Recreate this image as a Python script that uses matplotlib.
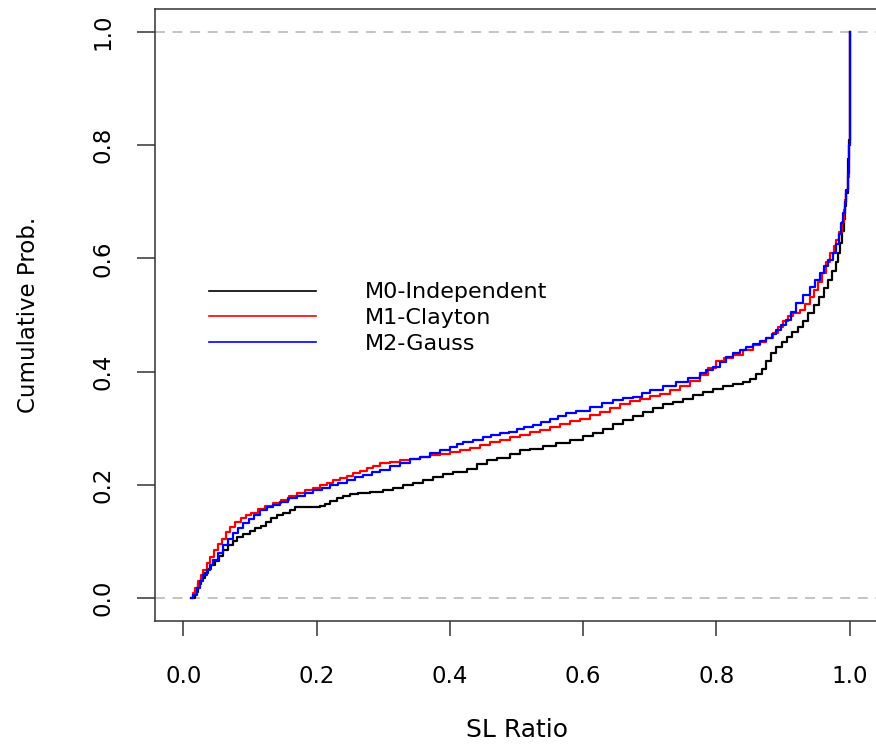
import matplotlib
matplotlib.use("Agg")
import matplotlib.pyplot as plt

# empirical CDF knots of the SL ratio under each model (x, cumulative prob.)
m0_x = [0.015, 0.018, 0.022, 0.027, 0.032, 0.037, 0.042, 0.048, 0.054, 0.06, 0.067, 0.074,
        0.081, 0.09, 0.10, 0.108, 0.116, 0.124, 0.132, 0.14, 0.15, 0.16, 0.168, 0.19, 0.205,
        0.212, 0.22, 0.23, 0.24, 0.25, 0.262, 0.28, 0.30, 0.315, 0.33, 0.345, 0.36, 0.375,
        0.39, 0.405, 0.425, 0.44, 0.455, 0.47, 0.49, 0.505, 0.52, 0.54, 0.56, 0.58, 0.60,
        0.615, 0.63, 0.645, 0.66, 0.675, 0.69, 0.705, 0.72, 0.735, 0.75, 0.765, 0.78, 0.795,
        0.81, 0.825, 0.84, 0.85, 0.86, 0.868, 0.875, 0.882, 0.89, 0.898, 0.906, 0.914, 0.922,
        0.93, 0.938, 0.946, 0.954, 0.962, 0.968, 0.974, 0.979, 0.983, 0.986, 0.989, 0.991,
        0.993, 0.995, 0.997, 0.998, 0.999, 1.0]
m0_p = [0.0, 0.01, 0.025, 0.035, 0.045, 0.052, 0.058, 0.066, 0.074, 0.084, 0.093, 0.101,
        0.108, 0.113, 0.119, 0.124, 0.128, 0.134, 0.142, 0.147, 0.15, 0.155, 0.16, 0.161, 0.162,
        0.166, 0.171, 0.176, 0.18, 0.184, 0.186, 0.188, 0.191, 0.194, 0.199, 0.204, 0.209, 0.214,
        0.219, 0.223, 0.228, 0.236, 0.243, 0.248, 0.255, 0.261, 0.264, 0.269, 0.274, 0.28, 0.286,
        0.291, 0.299, 0.308, 0.315, 0.322, 0.329, 0.336, 0.342, 0.347, 0.352, 0.358, 0.364, 0.369,
        0.374, 0.378, 0.382, 0.387, 0.395, 0.405, 0.418, 0.432, 0.443, 0.452, 0.461, 0.47, 0.478,
        0.49, 0.504, 0.518, 0.532, 0.548, 0.562, 0.578, 0.594, 0.61, 0.627, 0.648, 0.67,
        0.692, 0.715, 0.745, 0.775, 0.81, 1.0]

m1_x = [0.012, 0.015, 0.018, 0.022, 0.026, 0.03, 0.035, 0.04, 0.046, 0.052, 0.058, 0.064,
        0.07, 0.078, 0.086, 0.094, 0.102, 0.112, 0.122, 0.134, 0.146, 0.158, 0.17, 0.182,
        0.195, 0.205, 0.215, 0.225, 0.235, 0.245, 0.255, 0.265, 0.275, 0.285, 0.295, 0.31,
        0.325, 0.34, 0.355, 0.37, 0.385, 0.40, 0.415, 0.43, 0.445, 0.46, 0.475, 0.49, 0.505,
        0.52, 0.535, 0.55, 0.565, 0.58, 0.595, 0.61, 0.625, 0.64, 0.655, 0.67, 0.685, 0.70,
        0.715, 0.73, 0.745, 0.76, 0.775, 0.788, 0.80, 0.812, 0.825, 0.84, 0.855, 0.865, 0.875,
        0.885, 0.893, 0.90, 0.907, 0.915, 0.925, 0.933, 0.94, 0.946, 0.952, 0.958, 0.964, 0.97,
        0.976, 0.98, 0.984, 0.988, 0.991, 0.993, 0.995, 0.997, 0.9985, 0.9995, 1.0]
m1_p = [0.0, 0.008, 0.018, 0.03, 0.041, 0.05, 0.062, 0.073, 0.084, 0.095, 0.105, 0.116,
        0.126, 0.134, 0.141, 0.147, 0.151, 0.157, 0.162, 0.168, 0.174, 0.181, 0.186, 0.19,
        0.195, 0.2, 0.204, 0.208, 0.212, 0.216, 0.22, 0.225, 0.229, 0.234, 0.238, 0.241,
        0.243, 0.246, 0.249, 0.252, 0.255, 0.258, 0.261, 0.265, 0.27, 0.275, 0.279, 0.284, 0.288,
        0.293, 0.297, 0.302, 0.307, 0.312, 0.317, 0.323, 0.329, 0.335, 0.342, 0.348, 0.352, 0.357,
        0.361, 0.367, 0.375, 0.384, 0.394, 0.406, 0.418, 0.424, 0.429, 0.438, 0.447, 0.453, 0.46,
        0.468, 0.478, 0.489, 0.498, 0.503, 0.509, 0.52, 0.532, 0.545, 0.558, 0.575, 0.594, 0.61,
        0.622, 0.633, 0.647, 0.664, 0.685, 0.703, 0.72, 0.744, 0.77, 0.80, 1.0]

m2_x = [0.012, 0.015, 0.02, 0.025, 0.03, 0.035, 0.04, 0.045, 0.052, 0.06, 0.067, 0.075,
        0.082, 0.09, 0.098, 0.106, 0.115, 0.125, 0.135, 0.145, 0.157, 0.17, 0.182, 0.195,
        0.208, 0.22, 0.232, 0.245, 0.258, 0.27, 0.283, 0.295, 0.31, 0.325, 0.34, 0.355, 0.37,
        0.385, 0.40, 0.41, 0.42, 0.435, 0.45, 0.462, 0.475, 0.488, 0.50, 0.512, 0.525, 0.537,
        0.55, 0.562, 0.575, 0.59, 0.61, 0.628, 0.645, 0.66, 0.675, 0.688, 0.70, 0.72, 0.74,
        0.757, 0.775, 0.785, 0.795, 0.805, 0.815, 0.825, 0.835, 0.845, 0.855, 0.865, 0.875,
        0.883, 0.89, 0.897, 0.904, 0.912, 0.92, 0.93, 0.94, 0.948, 0.955, 0.962, 0.968, 0.975,
        0.98, 0.984, 0.9875, 0.99, 0.993, 0.995, 0.997, 0.9985, 0.9995, 1.0]
m2_p = [0.0, 0.005, 0.018, 0.03, 0.04, 0.05, 0.058, 0.067, 0.08, 0.094, 0.104, 0.115,
        0.124, 0.132, 0.139, 0.147, 0.155, 0.16, 0.165, 0.17, 0.176, 0.181, 0.186, 0.191,
        0.195, 0.199, 0.204, 0.208, 0.213, 0.217, 0.222, 0.227, 0.233, 0.239, 0.245, 0.25, 0.256,
        0.261, 0.267, 0.272, 0.276, 0.28, 0.284, 0.288, 0.291, 0.294, 0.298, 0.302, 0.306, 0.311,
        0.316, 0.321, 0.326, 0.331, 0.338, 0.344, 0.35, 0.353, 0.356, 0.362, 0.367, 0.374, 0.382,
        0.389, 0.397, 0.403, 0.409, 0.417, 0.425, 0.432, 0.438, 0.443, 0.449, 0.454, 0.459,
        0.466, 0.474, 0.482, 0.492, 0.506, 0.521, 0.536, 0.55, 0.562, 0.574, 0.586, 0.597, 0.609,
        0.626, 0.643, 0.662, 0.68, 0.70, 0.721, 0.75, 0.775, 0.80, 1.0]

labels = ["M0-Independent", "M1-Clayton", "M2-Gauss"]
colors = ["black", "red", "blue"]
xticks = [0.0, 0.2, 0.4, 0.6, 0.8, 1.0]
yticks = [0.0, 0.2, 0.4, 0.6, 0.8, 1.0]

fig = plt.figure(figsize=(8.76, 7.45), dpi=100)
ax = fig.add_axes([155 / 876, 124 / 745, 723 / 876, 612 / 745])

# grey reference lines at 0 and 1
for lvl in (0.0, 1.0):
    ax.axhline(lvl, color="#b3b3b3", lw=1.1, dashes=(6.5, 5.0), zorder=1)

for xs, ps, lab, col in zip([m0_x, m1_x, m2_x], [m0_p, m1_p, m2_p], labels, colors):
    ax.step(xs, ps, where="post", color=col, lw=1.6, label=lab, zorder=2)

ax.set_xlim(-0.0425, 1.0425)
ax.set_ylim(-0.0406, 1.0406)
ax.set_xticks(xticks)
ax.set_yticks(yticks)
ax.set_xticklabels(["%.1f" % v for v in xticks])
ax.set_yticklabels(["%.1f" % v for v in yticks])

for s in ax.spines.values():
    s.set_color("#333333")
    s.set_linewidth(1.1)
ax.tick_params(axis="x", length=11, width=1.1, color="#333333", pad=21, labelsize=16.5)
ax.tick_params(axis="y", length=13, width=1.1, color="#333333", pad=16, labelsize=16.5,
               labelrotation=90)
for t in ax.get_yticklabels():
    t.set_va("center")

ax.set_xlabel("SL Ratio", fontsize=18)
ax.set_ylabel("Cumulative Prob.", fontsize=16.5)
ax.xaxis.set_label_coords(0.5, -0.158)
ax.yaxis.set_label_coords(-0.159, 0.5)

leg = ax.legend(loc="upper left", bbox_to_anchor=(0.0747, 0.5534), frameon=False,
                fontsize=16, handlelength=4.82, handletextpad=2.2, labelspacing=0.26,
                borderpad=0.0, borderaxespad=0.0)
for ln in leg.get_lines():
    ln.set_linewidth(1.2)

fig.savefig("out.png", dpi=100)
